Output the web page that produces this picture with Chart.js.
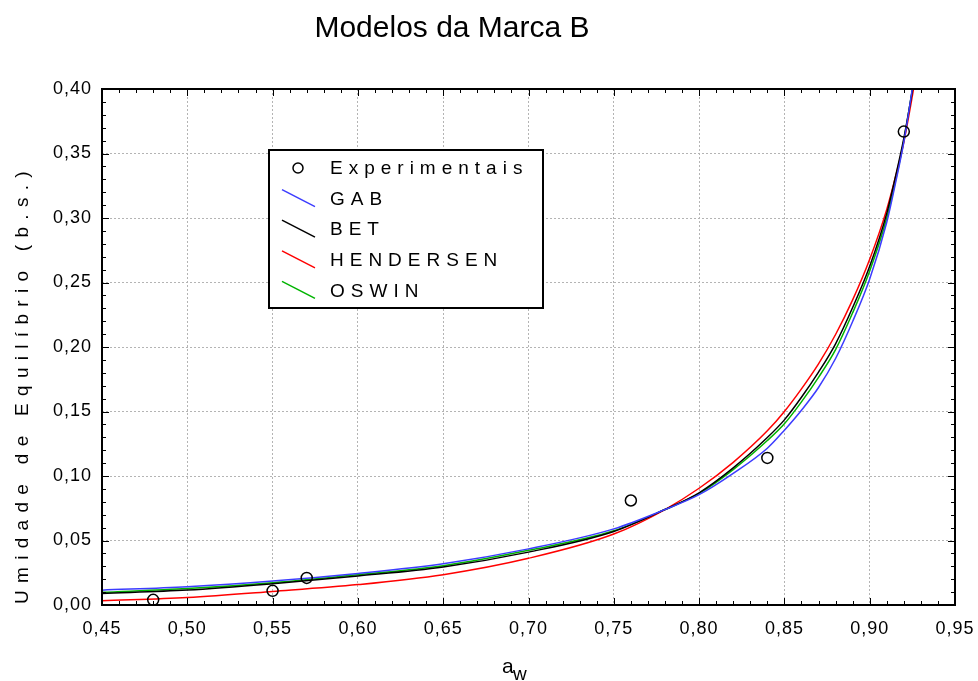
<!DOCTYPE html>
<html>
<head>
<meta charset="utf-8">
<script src="https://cdn.jsdelivr.net/npm/chart.js@4.4.0/dist/chart.umd.min.js"></script>
<style>
  html, body { margin: 0; padding: 0; background: #fff; }
</style>
</head>
<body>
<canvas id="chart" width="978" height="681"></canvas>
<script>
// chart texts
const chartTitle = "Modelos da Marca B";
const yTitle = "Umidade de Equilíbrio (b.s.)";
const xTitle = "a";
const xTitleSub = "w";

// tick labels
const xTicks = [0.45, 0.50, 0.55, 0.60, 0.65, 0.70, 0.75, 0.80, 0.85, 0.90, 0.95];
const yTicks = [0.00, 0.05, 0.10, 0.15, 0.20, 0.25, 0.30, 0.35, 0.40];

// experimental points
const expX = [0.48, 0.55, 0.57, 0.76, 0.84, 0.92];
const expY = [0.004, 0.011, 0.021, 0.081, 0.114, 0.367];

// model curves
const modelX = [0.45, 0.50, 0.55, 0.60, 0.65, 0.70, 0.75, 0.78, 0.80, 0.82, 0.84, 0.85, 0.86, 0.87, 0.88, 0.89, 0.90, 0.91, 0.915, 0.92, 0.925, 0.93];
const gabY = [0.0115, 0.0142, 0.0186, 0.0245, 0.032, 0.0435, 0.059, 0.074, 0.0855, 0.102, 0.1215, 0.1355, 0.151, 0.1686, 0.1911, 0.2198, 0.2528, 0.2967, 0.3263, 0.3588, 0.4005, 0.447];
const betY = [0.0090, 0.0116, 0.0165, 0.0225, 0.0295, 0.041, 0.057, 0.074, 0.087, 0.1063, 0.1298, 0.1435, 0.161, 0.1805, 0.2025, 0.2306, 0.2626, 0.3036, 0.3314, 0.3617, 0.3987, 0.4396];
const henY = [0.0032, 0.0058, 0.0105, 0.0158, 0.0235, 0.0362, 0.055, 0.074, 0.0905, 0.1106, 0.135, 0.150, 0.1675, 0.1869, 0.2097, 0.2365, 0.268, 0.3067, 0.3312, 0.3588, 0.3946, 0.434];
const oswY = [0.0098, 0.0127, 0.0173, 0.0235, 0.0305, 0.0424, 0.0575, 0.074, 0.0865, 0.105, 0.1275, 0.1405, 0.1575, 0.1765, 0.198, 0.2265, 0.259, 0.300, 0.328, 0.360, 0.3995, 0.441];

const FONT = "'Liberation Sans', Arial, sans-serif";

function toPoints(xs, ys) {
    return xs.map((x, i) => ({ x: x, y: ys[i] }));
}

function fmt(v) {
    return v.toFixed(2).replace(".", ",");
}

function curve(label, color, ys) {
    return {
        label: label,
        data: toPoints(modelX, ys),
        showLine: true,
        borderColor: color,
        borderWidth: 1.5,
        pointRadius: 0,
        cubicInterpolationMode: "monotone",
        fill: false
    };
}

function noPad(s) {
    s.paddingLeft = 0;
    s.paddingRight = 0;
    s.paddingTop = 0;
    s.paddingBottom = 0;
}

const decor = {
    id: "decor",
    beforeDraw(chart) {
        const ctx = chart.ctx;
        ctx.save();
        ctx.fillStyle = "#fff";
        ctx.fillRect(0, 0, chart.width, chart.height);
        ctx.restore();
        ctx.letterSpacing = "1px";
    },
    afterDraw(chart) {
        const ctx = chart.ctx;
        const a = chart.chartArea;
        const xs = chart.scales.x;
        const ys = chart.scales.y;

        ctx.save();
        ctx.letterSpacing = "0px";
        ctx.strokeStyle = "#000";

        // inward ticks on all sides
        ctx.lineWidth = 1;
        ctx.beginPath();
        for (let i = 0; i <= 50; i++) {
            const px = Math.round(xs.getPixelForValue(0.45 + i * 0.01)) + 0.5;
            const len = i % 5 === 0 ? 7 : 4;
            ctx.moveTo(px, a.bottom); ctx.lineTo(px, a.bottom - len);
            ctx.moveTo(px, a.top); ctx.lineTo(px, a.top + len);
        }
        for (let i = 0; i <= 40; i++) {
            const py = Math.round(ys.getPixelForValue(i * 0.01)) + 0.5;
            const len = i % 5 === 0 ? 7 : 4;
            ctx.moveTo(a.left, py); ctx.lineTo(a.left + len, py);
            ctx.moveTo(a.right, py); ctx.lineTo(a.right - len, py);
        }
        ctx.stroke();

        // frame
        ctx.lineWidth = 2;
        ctx.strokeRect(a.left, a.top, a.right - a.left, a.bottom - a.top);

        // title
        ctx.fillStyle = "#000";
        ctx.font = "30px " + FONT;
        ctx.textAlign = "center";
        ctx.textBaseline = "alphabetic";
        ctx.fillText(chartTitle, 452, 37);

        // x title with subscript
        ctx.textAlign = "left";
        ctx.font = "21px " + FONT;
        ctx.fillText(xTitle, 502, 673);
        ctx.font = "19px " + FONT;
        ctx.fillText(xTitleSub, 513, 680);

        // y title
        ctx.save();
        ctx.translate(23, 384);
        ctx.rotate(-Math.PI / 2);
        ctx.textAlign = "center";
        ctx.textBaseline = "middle";
        ctx.font = "19px " + FONT;
        ctx.letterSpacing = "7.3px";
        ctx.fillText(yTitle, 0, 0);
        ctx.restore();

        // legend
        const lx = 269, ly = 150, lw = 274, lh = 158;
        ctx.fillStyle = "#fff";
        ctx.fillRect(lx, ly, lw, lh);
        ctx.lineWidth = 2;
        ctx.strokeStyle = "#000";
        ctx.strokeRect(lx, ly, lw, lh);

        ctx.font = "19px " + FONT;
        ctx.textBaseline = "middle";
        ctx.textAlign = "left";
        ctx.letterSpacing = "6px";
        chart.data.datasets.forEach((ds, i) => {
            const cy = 168 + i * 30.6;
            if (ds.showLine) {
                ctx.strokeStyle = ds.borderColor;
                ctx.lineWidth = 1.5;
                ctx.beginPath();
                ctx.moveTo(282, cy - 9);
                ctx.lineTo(315, cy + 8);
                ctx.stroke();
            } else {
                ctx.strokeStyle = "#000";
                ctx.lineWidth = 1.5;
                ctx.beginPath();
                ctx.arc(298, cy, 5, 0, Math.PI * 2);
                ctx.stroke();
            }
            ctx.fillStyle = "#000";
            ctx.fillText(ds.label, 330, cy + 1);
        });
        ctx.restore();
    }
};

new Chart(document.getElementById("chart"), {
    type: "scatter",
    data: {
        datasets: [
            {
                label: "Experimentais",
                data: toPoints(expX, expY),
                showLine: false,
                pointStyle: "circle",
                pointRadius: 5.5,
                pointBorderWidth: 1.5,
                pointBorderColor: "#000",
                pointBackgroundColor: "rgba(0,0,0,0)"
            },
            curve("GAB", "#3c3cff", gabY),
            curve("BET", "#000000", betY),
            curve("HENDERSEN", "#ff0000", henY),
            curve("OSWIN", "#00b400", oswY)
        ]
    },
    options: {
        responsive: false,
        animation: false,
        devicePixelRatio: 1,
        layout: {
            padding: { left: 0, right: 23, top: 89, bottom: 0 }
        },
        plugins: {
            legend: { display: false },
            tooltip: { enabled: false },
            title: { display: false }
        },
        scales: {
            x: {
                type: "linear",
                min: 0.45,
                max: 0.95,
                afterBuildTicks: (s) => { s.ticks = xTicks.map(v => ({ value: v })); },
                afterFit: (s) => { s.height = 76; noPad(s); },
                grid: { color: "#b4b4b4", lineWidth: 1, drawTicks: false },
                border: { display: false, dash: [2, 2] },
                ticks: {
                    padding: 13,
                    color: "#000",
                    font: { size: 18, family: FONT },
                    maxRotation: 0,
                    autoSkip: false,
                    callback: (v) => fmt(v)
                }
            },
            y: {
                type: "linear",
                min: 0,
                max: 0.40,
                afterBuildTicks: (s) => { s.ticks = yTicks.map(v => ({ value: v })); },
                afterFit: (s) => { s.width = 102; noPad(s); },
                grid: { color: "#b4b4b4", lineWidth: 1, drawTicks: false },
                border: { display: false, dash: [2, 2] },
                ticks: {
                    padding: 10,
                    color: "#000",
                    font: { size: 18, family: FONT },
                    autoSkip: false,
                    callback: (v) => fmt(v)
                }
            }
        }
    },
    plugins: [decor]
});
</script>
</body>
</html>
